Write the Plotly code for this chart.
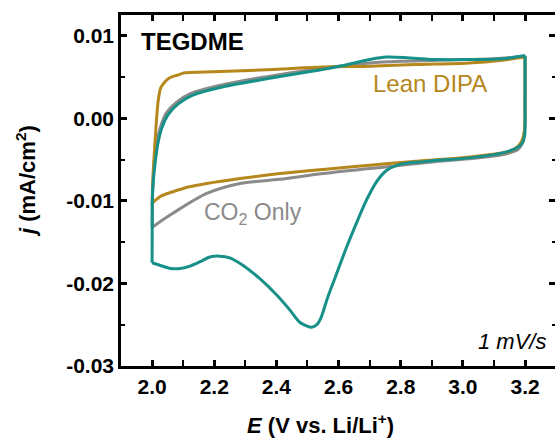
import plotly.graph_objects as go

# ---------------- data (E in V vs Li/Li+, j in mA/cm2) ----------------
# Lean DIPA (gold) - anodic sweep (2.0 -> 3.2) and cathodic sweep (3.2 -> 2.0)
dipa_up_E = [2.0, 2.004, 2.010, 2.015, 2.020, 2.028, 2.041, 2.057, 2.080, 2.105, 2.170, 2.39, 2.55, 2.70, 2.85, 3.02, 3.12, 3.2]
dipa_up_j = [-0.0105, -0.0063, -0.0026, 0.0002, 0.0022, 0.0037, 0.0044, 0.0049, 0.0052, 0.0055, 0.0056, 0.0059, 0.0062, 0.0063, 0.0065, 0.0067, 0.0070, 0.0074]
dipa_dn_E = [3.2, 3.2, 3.198, 3.19, 3.177, 3.15, 3.022, 2.85, 2.70, 2.55, 2.411, 2.283, 2.176, 2.12, 2.067, 2.03, 2.015, 2.0]
dipa_dn_j = [0.0074, 0.0020, -0.0015, -0.0027, -0.0034, -0.0040, -0.0047, -0.0052, -0.0057, -0.0062, -0.0067, -0.0073, -0.0079, -0.0083, -0.0089, -0.0094, -0.0098, -0.0103]

# CO2 only (gray)
co2_up_E = [2.0, 2.0005, 2.002, 2.006, 2.014, 2.026, 2.045, 2.077, 2.125, 2.22, 2.38, 2.48, 2.6, 2.7, 2.8, 2.9, 3.0, 3.1, 3.2]
co2_up_j = [-0.0132, -0.0110, -0.0085, -0.0057, -0.0032, -0.0012, 0.0006, 0.0019, 0.0030, 0.0040, 0.0051, 0.0057, 0.0063, 0.0067, 0.0069, 0.0070, 0.0071, 0.0072, 0.0075]
co2_dn_E = [3.2, 3.2, 3.198, 3.19, 3.177, 3.13, 3.02, 2.9, 2.8, 2.7, 2.55, 2.41, 2.283, 2.176, 2.067, 2.03, 2.0]
co2_dn_j = [0.0075, 0.0020, -0.0017, -0.0031, -0.0038, -0.0044, -0.0049, -0.0053, -0.0057, -0.0061, -0.0067, -0.0074, -0.0079, -0.0091, -0.0115, -0.0124, -0.0132]

# TEGDME (teal)
teg_up_E = [2.0, 2.0005, 2.002, 2.009, 2.018, 2.031, 2.051, 2.083, 2.131, 2.228, 2.388, 2.485, 2.604, 2.70, 2.755, 2.829, 2.916, 3.022, 3.128, 3.2]
teg_up_j = [-0.0175, -0.0123, -0.0087, -0.0057, -0.0032, -0.0012, 0.0004, 0.0017, 0.0028, 0.0038, 0.0049, 0.0055, 0.0063, 0.0071, 0.0074, 0.0073, 0.0071, 0.0071, 0.0072, 0.0076]
teg_dn_E = [3.2, 3.2, 3.199, 3.193, 3.177, 3.128, 3.022, 2.916, 2.861, 2.829, 2.787, 2.755, 2.722, 2.690, 2.662, 2.626, 2.591,
            2.565, 2.543, 2.530, 2.514, 2.495, 2.475, 2.443, 2.401, 2.346, 2.292, 2.250, 2.218, 2.186, 2.153, 2.122, 2.090, 2.060, 2.025, 2.0]
teg_dn_j = [0.0076, 0.0022, -0.0020, -0.0029, -0.0035, -0.0042, -0.0048, -0.0051, -0.0053, -0.0054, -0.0057, -0.0063, -0.0077, -0.0099, -0.0123, -0.0156, -0.0191,
            -0.0217, -0.0242, -0.0250, -0.0253, -0.0251, -0.0247, -0.0232, -0.0214, -0.0194, -0.0178, -0.0169, -0.0167, -0.0168, -0.0174, -0.0179, -0.0182, -0.0182, -0.0178, -0.0175]

x_ticks = [2.0, 2.2, 2.4, 2.6, 2.8, 3.0, 3.2]
x_minor = [2.1, 2.3, 2.5, 2.7, 2.9, 3.1]
x_labels = ["2.0", "2.2", "2.4", "2.6", "2.8", "3.0", "3.2"]
y_ticks = [-0.03, -0.02, -0.01, 0.0, 0.01]
y_minor = [-0.025, -0.015, -0.005, 0.005]
y_labels = ["-0.03", "-0.02", "-0.01", "0.00", "0.01"]

GRAY = "#8a8a8a"
GOLD = "#b5871c"
TEAL = "#17908a"
FONT = "Liberation Sans, Arial, sans-serif"

fig = go.Figure()
def add_branch(E, j, color):
    fig.add_trace(go.Scatter(x=E, y=j, mode="lines",
                             line=dict(color=color, width=3, shape="spline", smoothing=0.9),
                             showlegend=False))

add_branch(co2_up_E, co2_up_j, GRAY)
add_branch(co2_dn_E, co2_dn_j, GRAY)
add_branch(dipa_up_E, dipa_up_j, GOLD)
add_branch(dipa_dn_E, dipa_dn_j, GOLD)
add_branch(teg_up_E, teg_up_j, TEAL)
add_branch(teg_dn_E, teg_dn_j, TEAL)
# carrier for the right-side tick axis
fig.add_trace(go.Scatter(x=[2.0], y=[0.0], yaxis="y2", mode="markers", marker=dict(opacity=0),
                         hoverinfo="skip", showlegend=False))

tickfont = dict(family=FONT, size=21, color="black", weight="bold")

fig.update_layout(
    width=555, height=442,
    margin=dict(l=121, r=0, t=15, b=76),
    paper_bgcolor="white", plot_bgcolor="white",
    xaxis=dict(range=[1.9, 3.2964], showline=True, linewidth=2.5, linecolor="black", mirror="allticks",
               ticks="inside", ticklen=6, tickwidth=2.5, tickcolor="black",
               tickvals=x_ticks, ticktext=x_labels, tickfont=tickfont,
               minor=dict(tickvals=x_minor, ticks="inside", ticklen=4, tickwidth=2, tickcolor="black"),
               showgrid=False, zeroline=False),
    yaxis=dict(range=[-0.03, 0.0125], showline=True, linewidth=2.5, linecolor="black", mirror=False,
               ticks="inside", ticklen=6, tickwidth=2.5, tickcolor="black",
               tickvals=y_ticks, ticktext=y_labels, tickfont=tickfont,
               minor=dict(tickvals=y_minor, ticks="inside", ticklen=4, tickwidth=2, tickcolor="black"),
               showgrid=False, zeroline=False),
    yaxis2=dict(range=[-0.03, 0.0125], overlaying="y", side="right", showline=False,
                ticks="inside", ticklen=6, tickwidth=2.5, tickcolor="black",
                tickvals=y_ticks, showticklabels=False,
                minor=dict(tickvals=y_minor, ticks="inside", ticklen=3, tickwidth=2, tickcolor="black"),
                showgrid=False, zeroline=False),
)

def px_x(px):
    return (px - 121) / 434.0

def px_y(py):
    return (366 - py) / 351.0

ann = [
    dict(text="<b>TEGDME</b>", x=px_x(139), y=px_y(42), xanchor="left", yanchor="middle",
         font=dict(family=FONT, size=24, color="black")),
    dict(text="Lean DIPA", x=px_x(371), y=px_y(84), xanchor="left", yanchor="middle",
         font=dict(family=FONT, size=24, color=GOLD)),
    dict(text="CO<sub>2</sub> Only", x=px_x(202), y=px_y(213), xanchor="left", yanchor="middle",
         font=dict(family=FONT, size=23, color=GRAY)),
    dict(text="<i>1 mV/s</i>", x=px_x(548), y=px_y(341), xanchor="right", yanchor="middle",
         font=dict(family=FONT, size=22, color="black")),
    dict(text="<b><i>E</i> (V vs. Li/Li<sup>+</sup>)</b>", x=px_x(320), y=px_y(424), xanchor="center", yanchor="middle",
         font=dict(family=FONT, size=22, color="black")),
    dict(text="<b><i>j</i> (mA/cm<sup>2</sup>)</b>", x=px_x(26), y=px_y(181), xanchor="center", yanchor="middle",
         textangle=-90, font=dict(family=FONT, size=22, color="black")),
]
for a in ann:
    a.update(xref="paper", yref="paper", showarrow=False)
fig.update_layout(annotations=ann)

fig.write_html("out.html")
